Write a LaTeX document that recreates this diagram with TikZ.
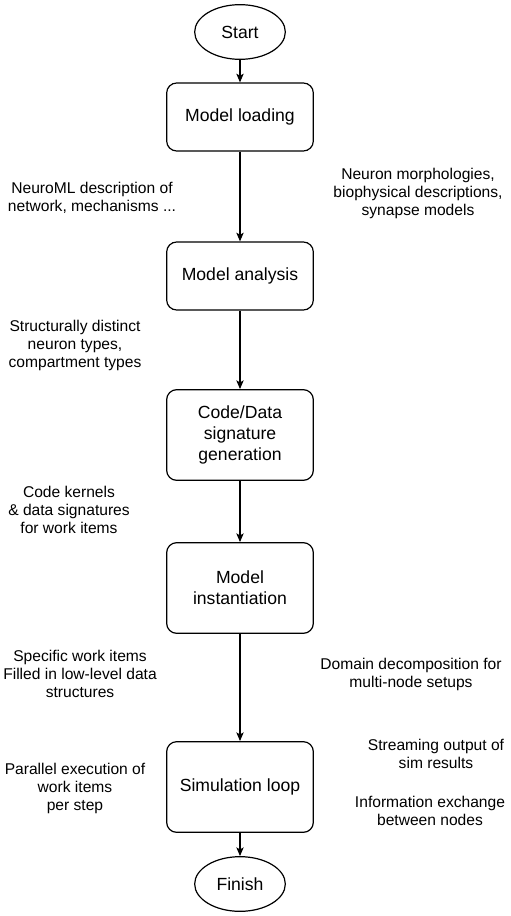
\documentclass[tikz,border=0pt]{standalone}
\usepackage{fontspec}
\setmainfont{Liberation Sans}
\usetikzlibrary{positioning,arrows.meta,shapes.geometric}

\begin{document}
\begin{tikzpicture}[x=0.75pt, y=-0.75pt, >={Stealth[length=6.5pt,width=5.5pt,inset=1.5pt]},
		every box/.style={draw, line width=0.9pt, rounded corners=7.5pt, minimum width=110pt, align=center, font=\fontsize{13.2}{16}\selectfont},
		every terminal/.style={draw, ellipse, line width=0.9pt, minimum width=68pt, minimum height=41pt, inner sep=0pt, font=\fontsize{13.2}{16}\selectfont},
		every note/.style={align=center, font=\fontsize{11.7}{13.5}\selectfont}]
		
		\useasboundingbox (0,0) rectangle (510,916);
		
		\node [every terminal] (start) at (240,32) {Start};
		\node [every box, minimum height=51pt] (load) at (240,117) {Model loading};
		\node [every box, minimum height=51pt] (analysis) at (240,276) {Model analysis};
		\node [every box, minimum height=68pt] (codegen) at (240,435) {Code/Data\\signature\\generation};
		\node [every box, minimum height=68pt] (inst) at (240,588) {Model\\instantiation};
		\node [every box, minimum height=68pt] (simloop) at (240,787) {Simulation loop};
		\node [every terminal] (finish) at (240,884) {Finish};
		
		\foreach \a/\b in {start/load, load/analysis, analysis/codegen, codegen/inst, inst/simloop, simloop/finish}
		\draw [->, line width=0.9pt] (\a) -- (\b);
		
		% side notes
		\node [every note] (note-load-l) at (92,198) {NeuroML description of\\network, mechanisms ...};
		\node [every note] (note-load-r) at (418,193) {Neuron morphologies,\\biophysical descriptions,\\synapse models};
		\node [every note] (note-analysis) at (75,345) {Structurally distinct\\neuron types,\\compartment types};
		\node [every note] (note-codegen) at (69,510) {Code kernels\\\& data signatures\\for work items};
		\node [every note] (note-inst-l) at (80,674) {Specific work items\\Filled in low-level data\\structures};
		\node [every note] (note-inst-r) at (411,674) {Domain decomposition for\\multi-node setups};
		\node [every note] (note-sim-l) at (75,788) {Parallel execution of\\work items\\per step};
		\node [every note] (note-sim-r1) at (436,754) {Streaming output of\\sim results};
		\node [every note] (note-sim-r2) at (430,811) {Information exchange\\between nodes};
		
\end{tikzpicture}
\end{document}
